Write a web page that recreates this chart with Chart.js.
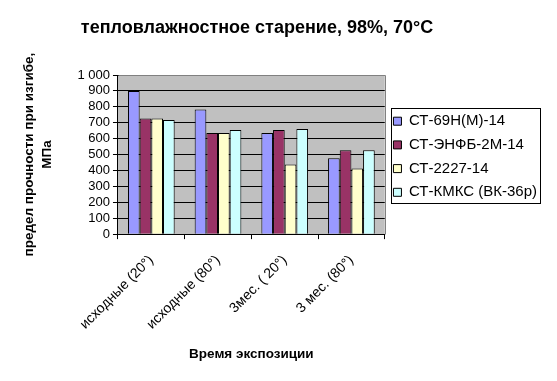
<!DOCTYPE html>
<html>
<head>
<meta charset="utf-8">
<script src="https://cdn.jsdelivr.net/npm/chart.js@4/dist/chart.umd.min.js"></script>
<style>
  html, body { margin: 0; padding: 0; background: #fff; }
  canvas { display: block; }
</style>
</head>
<body>
<canvas id="agingChart" width="557" height="381"></canvas>
<script>
// categories (exposure time)
const categories = ['исходные (20°)', 'исходные (80°)', '3мес. ( 20°)', '3 мес. (80°)'];

// series: bending strength, MPa
const seriesNames = ['СТ-69Н(М)-14', 'СТ-ЭНФБ-2М-14', 'СТ-2227-14', 'СТ-КМКС (ВК-36р)'];
const st69 = [900, 783, 635, 477];
const stEnfb = [727, 635, 655, 527];
const st2227 = [727, 635, 437, 413];
const stKmks = [717, 655, 660, 527];

const yTicks = [0, 100, 200, 300, 400, 500, 600, 700, 800, 900, 1000];

const colors = ['#9999FF', '#993366', '#FFFFCC', '#CCFFFF'];
const font = 'Arial, "Liberation Sans", sans-serif';

// grey plot background + frame, chart title, legend border
const excelLook = {
    id: 'excelLook',
    beforeDraw(chart) {
        const { ctx, chartArea: a } = chart;
        ctx.save();
        ctx.fillStyle = '#C0C0C0';
        ctx.fillRect(a.left, a.top, a.right - a.left, a.bottom - a.top);
        ctx.restore();
    },
    beforeDatasetsDraw(chart) {
        const { ctx, chartArea: a } = chart;
        ctx.save();
        ctx.strokeStyle = '#808080';
        ctx.lineWidth = 1;
        ctx.beginPath();
        ctx.moveTo(Math.round(a.left) + 0.5, Math.round(a.top) + 0.5);
        ctx.lineTo(Math.round(a.right) + 0.5, Math.round(a.top) + 0.5);
        ctx.lineTo(Math.round(a.right) + 0.5, Math.round(a.bottom) + 0.5);
        ctx.stroke();
        ctx.restore();
    },
    afterDraw(chart) {
        const ctx = chart.ctx;
        ctx.save();
        ctx.fillStyle = '#000';
        ctx.font = 'bold 18px ' + font;
        ctx.textAlign = 'center';
        ctx.textBaseline = 'middle';
        ctx.fillText('тепловлажностное старение, 98%, 70°С', 257, 28);

        const boxes = chart.legend.legendHitBoxes;
        if (boxes && boxes.length) {
            let l = Infinity, t = Infinity, r = -Infinity, b = -Infinity;
            boxes.forEach(h => {
                l = Math.min(l, h.left); t = Math.min(t, h.top);
                r = Math.max(r, h.left + h.width); b = Math.max(b, h.top + h.height);
            });
            ctx.strokeStyle = '#000';
            ctx.lineWidth = 1;
            ctx.strokeRect(Math.round(l - 2) + 0.5, Math.round(t - 6) + 0.5,
                Math.round(r - l + 5), Math.round(b - t + 9));
        }
        ctx.restore();
    }
};

const datasets = [st69, stEnfb, st2227, stKmks].map((vals, i) => ({
    label: seriesNames[i],
    data: vals,
    backgroundColor: colors[i],
    borderColor: '#000',
    borderWidth: 1,
    categoryPercentage: 0.7,
    barPercentage: 1.0
}));

const ctx = document.getElementById('agingChart').getContext('2d');
const agingChart = new Chart(ctx, {
    type: 'bar',
    data: { labels: categories, datasets: datasets },
    plugins: [excelLook],
    options: {
        responsive: false,
        animation: false,
        layout: { padding: { left: 20, top: 75, right: 10, bottom: 19 } },
        plugins: {
            title: { display: false },
            tooltip: { enabled: false },
            legend: {
                position: 'right',
                align: 'start',
                maxWidth: 220,
                title: {
                    display: true,
                    text: ' ',
                    font: { size: 10, lineHeight: 1 },
                    padding: { top: 20, bottom: 0 }
                },
                labels: {
                    boxWidth: 8,
                    boxHeight: 8,
                    padding: 8.7,
                    color: '#000',
                    font: { family: font, size: 15 }
                }
            }
        },
        scales: {
            x: {
                offset: true,
                grid: {
                    display: true,
                    offset: true,
                    drawOnChartArea: false,
                    color: '#000',
                    tickLength: 5
                },
                border: { color: '#000' },
                ticks: {
                    color: '#000',
                    font: { family: font, size: 14 },
                    minRotation: 45,
                    maxRotation: 45,
                    padding: 13
                },
                title: {
                    display: true,
                    text: 'Время экспозиции',
                    color: '#000',
                    font: { family: font, size: 13.5, weight: 'bold' },
                    padding: { top: 0, bottom: 0 }
                }
            },
            y: {
                min: 0,
                max: 1000,
                afterBuildTicks(scale) {
                    scale.ticks = yTicks.map(v => ({ value: v }));
                },
                grid: { color: '#000', tickLength: 5 },
                border: { color: '#000' },
                ticks: {
                    autoSkip: false,
                    color: '#000',
                    font: { family: font, size: 13 },
                    padding: 3,
                    callback: v => v >= 1000 ? String(v).replace(/(\d)(\d{3})$/, '$1 $2') : String(v)
                },
                title: {
                    display: true,
                    text: ['предел прочности при изгибе,', 'МПа'],
                    color: '#000',
                    font: { family: font, size: 13.5, weight: 'bold', lineHeight: 1.35 },
                    padding: { top: 0, bottom: 18 }
                }
            }
        }
    }
});
</script>
</body>
</html>
